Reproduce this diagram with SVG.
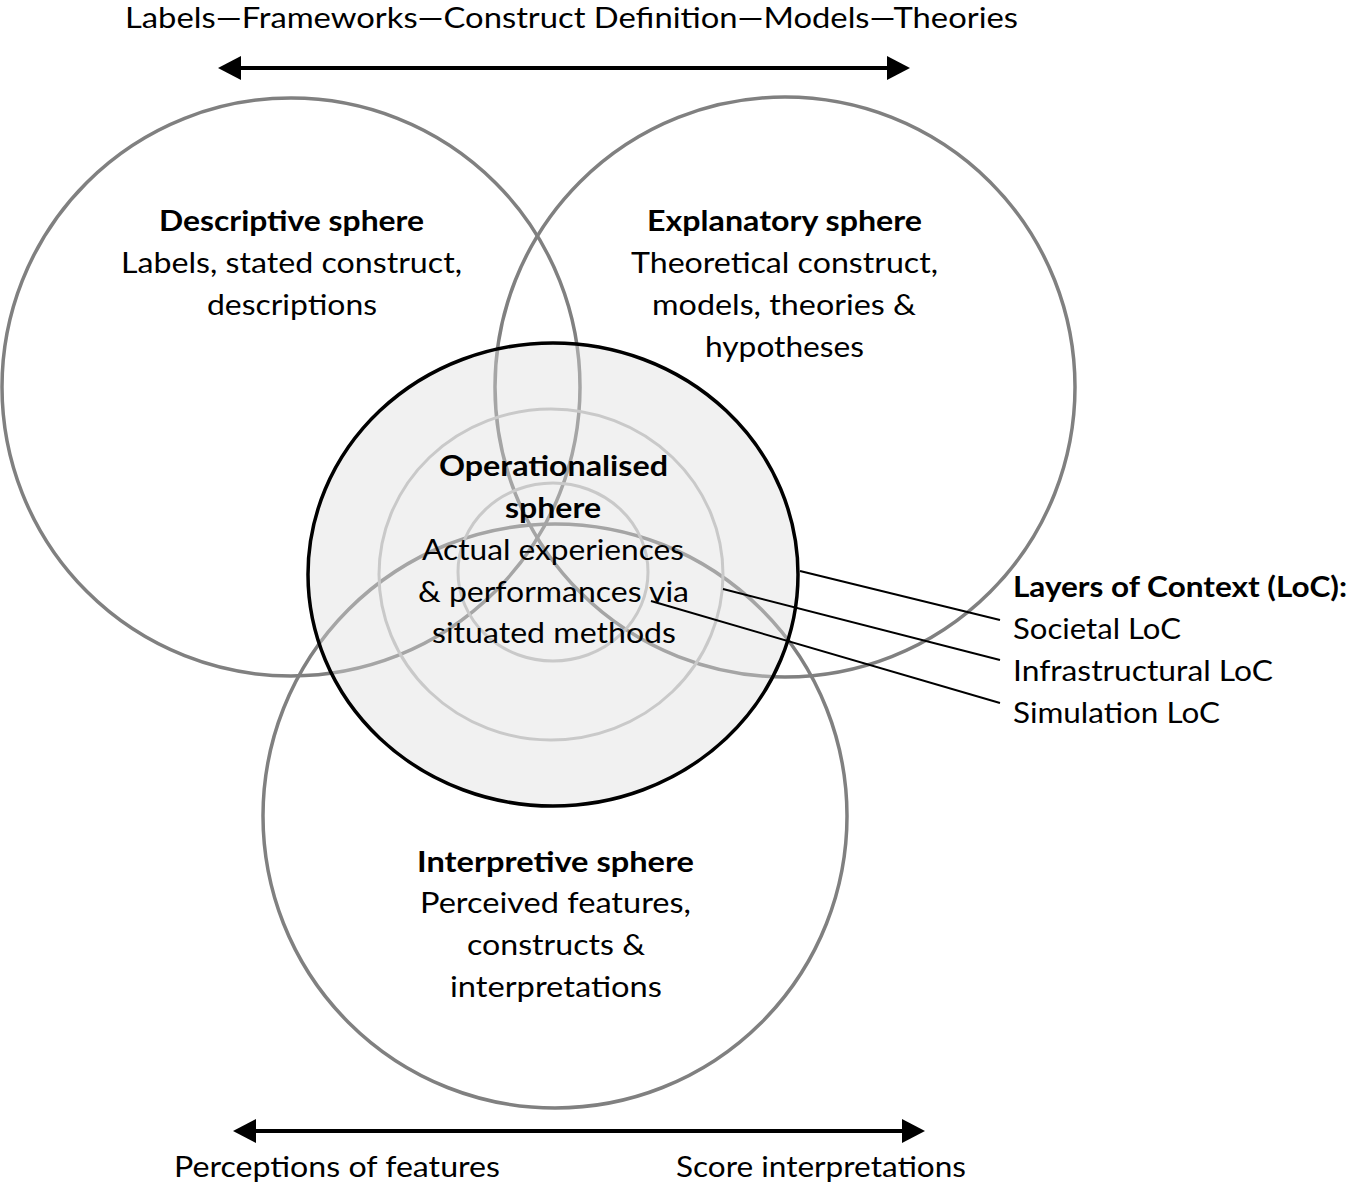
<svg xmlns="http://www.w3.org/2000/svg" width="1352" height="1186" viewBox="0 0 1352 1186">
<style>
  text { font-family: Lato, "Open Sans", "Liberation Sans", sans-serif; font-size: 29px; fill: #000; }
  .b { font-weight: bold; }
  .mid { text-anchor: middle; }
  .big { fill: none; stroke: #808080; stroke-width: 3.5; }
  .inner { fill: none; stroke: #c9c9c9; stroke-width: 3; }
  .lead { stroke: #000; stroke-width: 2; fill: none; }
  .axis { stroke: #000; stroke-width: 4; fill: none; marker-start: url(#ah); marker-end: url(#ah); }
</style>
<defs>
  <marker id="ah" markerUnits="userSpaceOnUse" markerWidth="24" markerHeight="24" refX="1" refY="12" orient="auto-start-reverse" viewBox="0 0 24 24">
    <path d="M0,0 L23,12 L0,24 z" fill="#000"/>
  </marker>
</defs>
<rect width="1352" height="1186" fill="#fff"/>

<g id="descriptive-circle"><circle class="big" cx="291" cy="387" r="289"/></g>
<g id="explanatory-circle"><circle class="big" cx="785" cy="387" r="290"/></g>
<g id="interpretive-circle"><circle class="big" cx="555" cy="816" r="292"/></g>

<g id="operationalised">
  <ellipse cx="553" cy="574.5" rx="245" ry="231.5" fill="#dcdcdc" fill-opacity="0.4"/>
  <ellipse class="inner" cx="551" cy="574.5" rx="172" ry="165.5"/>
  <ellipse class="inner" cx="553" cy="572" rx="95" ry="89"/>
  <ellipse cx="553" cy="574.5" rx="245" ry="231.5" fill="none" stroke="#000" stroke-width="3.5"/>
  <text class="b mid" x="553.5" y="476" textLength="229" lengthAdjust="spacingAndGlyphs">Operationalised</text>
  <text class="b mid" x="553" y="518" textLength="96" lengthAdjust="spacingAndGlyphs">sphere</text>
  <text class="mid" x="553" y="560" textLength="262" lengthAdjust="spacingAndGlyphs">Actual experiences</text>
  <text class="mid" x="553.5" y="602" textLength="271" lengthAdjust="spacingAndGlyphs">&amp; performances via</text>
  <text class="mid" x="554" y="643" textLength="244" lengthAdjust="spacingAndGlyphs">situated methods</text>
</g>

<g id="descriptive">
  <text class="b mid" x="291.5" y="231" textLength="265" lengthAdjust="spacingAndGlyphs">Descriptive sphere</text>
  <text class="mid" x="291.5" y="273" textLength="341" lengthAdjust="spacingAndGlyphs">Labels, stated construct,</text>
  <text class="mid" x="292" y="315" textLength="170" lengthAdjust="spacingAndGlyphs">descriptions</text>
</g>

<g id="explanatory">
  <text class="b mid" x="784.5" y="231" textLength="275" lengthAdjust="spacingAndGlyphs">Explanatory sphere</text>
  <text class="mid" x="784.5" y="273" textLength="307" lengthAdjust="spacingAndGlyphs">Theoretical construct,</text>
  <text class="mid" x="784" y="315" textLength="264" lengthAdjust="spacingAndGlyphs">models, theories &amp;</text>
  <text class="mid" x="784.5" y="357" textLength="159" lengthAdjust="spacingAndGlyphs">hypotheses</text>
</g>

<g id="interpretive">
  <text class="b mid" x="555.5" y="872" textLength="277" lengthAdjust="spacingAndGlyphs">Interpretive sphere</text>
  <text class="mid" x="555.5" y="913" textLength="271" lengthAdjust="spacingAndGlyphs">Perceived features,</text>
  <text class="mid" x="556" y="955" textLength="178" lengthAdjust="spacingAndGlyphs">constructs &amp;</text>
  <text class="mid" x="556" y="997" textLength="212" lengthAdjust="spacingAndGlyphs">interpretations</text>
</g>

<g id="layers-of-context">
  <text class="b" x="1013" y="597" textLength="334" lengthAdjust="spacingAndGlyphs">Layers of Context (LoC):</text>
  <text x="1013" y="639" textLength="168" lengthAdjust="spacingAndGlyphs">Societal LoC</text>
  <text x="1013" y="681" textLength="260" lengthAdjust="spacingAndGlyphs">Infrastructural LoC</text>
  <text x="1013" y="723" textLength="207" lengthAdjust="spacingAndGlyphs">Simulation LoC</text>
</g>

<g id="top-axis-label">
  <text class="mid" x="571.5" y="28" textLength="893" lengthAdjust="spacingAndGlyphs">Labels—Frameworks—Construct Definition—Models—Theories</text>
</g>
<g id="bottom-axis-labels">
  <text x="174" y="1177" textLength="326" lengthAdjust="spacingAndGlyphs">Perceptions of features</text>
  <text x="676" y="1177" textLength="290" lengthAdjust="spacingAndGlyphs">Score interpretations</text>
</g>

<g id="connectors">
  <line class="axis" x1="240" y1="68" x2="888" y2="68"/>
  <line class="axis" x1="255" y1="1131" x2="903" y2="1131"/>
  <line class="lead" x1="800" y1="571" x2="1000" y2="620"/>
  <line class="lead" x1="723" y1="589" x2="1000" y2="660"/>
  <line class="lead" x1="651" y1="601" x2="1000" y2="703"/>
</g>
</svg>
